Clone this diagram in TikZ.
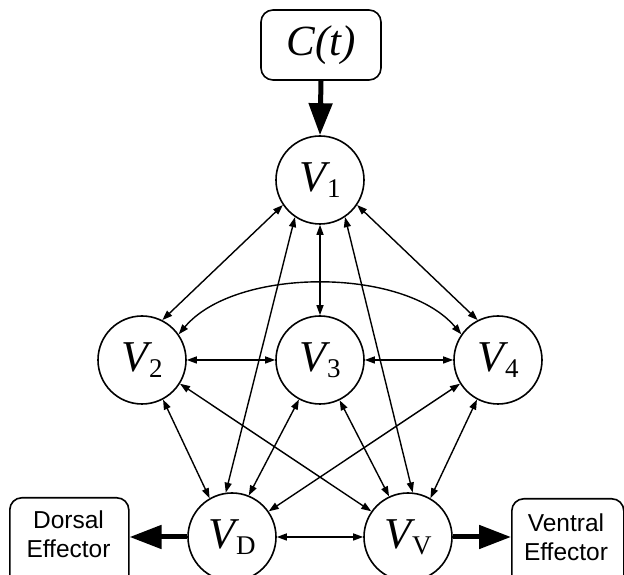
\documentclass[tikz,border=0pt]{standalone}
\usepackage{fontspec}
\setmainfont{Liberation Serif}
\newfontfamily\effont{Liberation Sans}
\usetikzlibrary{arrows.meta}

\tikzset{
  unit/.style={circle, draw, line width=1.6pt, minimum size=88pt, inner sep=0pt},
  inbox/.style={draw, line width=1.6pt, rounded corners=12pt, minimum width=120pt, minimum height=70pt, inner sep=0pt},
  effframe/.style={draw, line width=1.6pt, rounded corners=12pt, inner sep=0pt, anchor=north west},
  efftext/.style={align=center, inner sep=0pt, font=\effont\fontsize{24.5}{29}\selectfont},
  link/.style={line width=1.4pt, {Triangle[length=10pt,width=7pt]}-{Triangle[length=10pt,width=7pt]}},
  drive/.style={line width=5pt, -{Triangle[length=32pt,width=23pt]}}
}

% unit label: italic V with an upright subscript
\newcommand{\unitlabel}[1]{{\fontsize{44}{44}\selectfont\itshape V}\kern1pt\raisebox{-6pt}{\fontsize{27}{27}\selectfont #1}}

\begin{document}
\begin{tikzpicture}[x=1pt, y=1pt]
\useasboundingbox (0,0) rectangle (624,575);

% input and units
\node[inbox] (C) at (321,530) {\fontsize{43}{43}\selectfont\itshape C(t)};
\node[unit] (V1) at (320,395) {\unitlabel{1}};
\node[unit] (V2) at (142,215) {\unitlabel{2}};
\node[unit] (V3) at (320,215) {\unitlabel{3}};
\node[unit] (V4) at (498,215) {\unitlabel{4}};
\node[unit] (VD) at (232,38) {\unitlabel{D}};
\node[unit] (VV) at (408,38) {\unitlabel{V}};

% effector boxes (their lower edges run off the page)
\node[effframe, minimum width=119pt, minimum height=110pt] (Dbox) at (9,78) {};
\node[effframe, minimum width=112pt, minimum height=110pt] (Vbox) at (511,77) {};
\node[efftext] (Dtext) at (68.5,41) {Dorsal\\Effector};
\node[efftext] (Vtext) at (566,38) {Ventral\\Effector};

% drive arrows
\draw[drive] (C.south) -- (V1.north);
\draw[drive] (VD.west) -- (VD.west -| Dbox.east);
\draw[drive] (VV.east) -- (VV.east -| Vbox.west);

% reciprocal couplings
\draw[link] (V1.214) -- (V2.63);
\draw[link] (V1.326) -- (V4.117);
\draw[link] (V1.south) -- (V3.north);
\draw[link] (V1.236) -- (VD.98);
\draw[link] (V1.304) -- (VV.84);
\draw[link] (V2.east) -- (V3.west);
\draw[link] (V3.east) -- (V4.west);
\draw[link] (V2.35) to[out=50, in=130, looseness=0.8] (V4.145);
\draw[link] (V2.298) -- (VD.120);
\draw[link] (V2.328) -- (VV.145);
\draw[link] (V4.212) -- (VD.35);
\draw[link] (V4.242) -- (VV.60);
\draw[link] (V3.242) -- (VD.68);
\draw[link] (V3.296) -- (VV.115);
\draw[link] (VD.east) -- (VV.west);
\end{tikzpicture}
\end{document}
